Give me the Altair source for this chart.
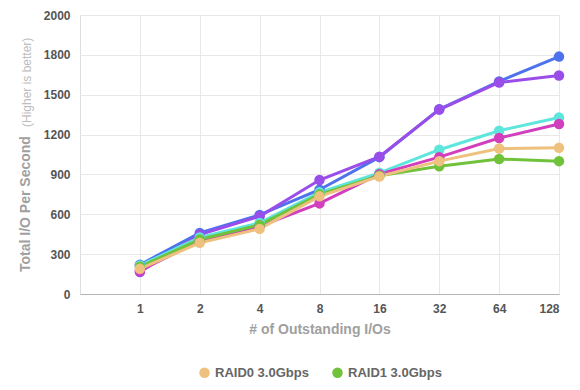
import altair as alt
import pandas as pd

ios = [1, 2, 4, 8, 16, 32, 64, 128]
# legend is filled column by column: left column first, then right column
series = ["RAID0 3.0Gbps", "RAID0 6.0Gbps", "RAID10 3.0Gbps",
          "RAID1 3.0Gbps", "RAID1 6.0Gbps", "RAID10 6.0Gbps"]
colors = ["#EEC17E", "#D23FBE", "#4E72EC", "#70C23B", "#5EE6DC", "#9A4DE9"]

raid0_3 = [190, 385, 490, 735, 885, 1000, 1095, 1100]
raid1_3 = [205, 410, 520, 750, 890, 962, 1016, 1000]
raid0_6 = [175, 400, 510, 682, 902, 1030, 1174, 1279]
raid1_6 = [215, 425, 535, 765, 912, 1086, 1229, 1329]
raid10_3 = [220, 460, 595, 785, 1030, 1390, 1600, 1787]
raid10_6 = [165, 447, 585, 858, 1034, 1388, 1592, 1645]

values = {
    "RAID0 3.0Gbps": raid0_3,
    "RAID1 3.0Gbps": raid1_3,
    "RAID0 6.0Gbps": raid0_6,
    "RAID1 6.0Gbps": raid1_6,
    "RAID10 3.0Gbps": raid10_3,
    "RAID10 6.0Gbps": raid10_6,
}
draw_order = ["RAID10 3.0Gbps", "RAID10 6.0Gbps", "RAID1 6.0Gbps",
              "RAID0 6.0Gbps", "RAID1 3.0Gbps", "RAID0 3.0Gbps"]

rows = []
for i, s in enumerate(draw_order):
    for x, v in zip(ios, values[s]):
        rows.append({"series": s, "ios": x, "iops": v, "ord": i})
df = pd.DataFrame(rows)

W, H = 479, 279
font = "Liberation Sans"

xenc = alt.X("ios:Q",
             scale=alt.Scale(type="log", base=2, domain=[0.5, 128]),
             axis=alt.Axis(values=ios, format="d", title="# of Outstanding I/Os",
                           labelFontWeight="bold", labelFontSize=12, labelColor="#555",
                           labelPadding=9, tickSize=0, domainColor="#b5b5b5",
                           gridColor="#e8e8e8", titleFontSize=14, titleFontWeight="bold",
                           titleColor="#a0a0a0", titlePadding=8, labelFont=font,
                           titleFont=font))
yenc = alt.Y("iops:Q",
             scale=alt.Scale(domain=[0, 1800, 2000], range=[H, H * 1 / 7, 0]),
             axis=alt.Axis(values=[0, 300, 600, 900, 1200, 1500, 1800, 2000],
                           format="d", title=None, labelFontWeight="bold",
                           labelFontSize=12, labelColor="#555", labelPadding=10,
                           tickSize=0, domain=False, gridColor="#e8e8e8",
                           labelFont=font))
cenc = alt.Color("series:N",
                 scale=alt.Scale(domain=series, range=colors),
                 legend=alt.Legend(title=None, orient="none", legendX=118, legendY=351,
                                   columns=2, symbolType="circle", symbolSize=110,
                                   symbolStrokeWidth=0, labelFontSize=13,
                                   labelFontWeight="bold", labelColor="#666",
                                   labelFont=font, columnPadding=14, rowPadding=8,
                                   symbolOpacity=1))

base = alt.Chart(df).encode(x=xenc, y=yenc, color=cenc, order=alt.Order("ord:Q"))
lines = base.mark_line(strokeWidth=3)
points = base.mark_point(filled=True, size=110, opacity=1)

shadow = alt.Chart(pd.DataFrame({"k": [0]})).mark_rect(
    clip=False,
    color=alt.Gradient(gradient="radial", x1=0.5, y1=0, r1=0, x2=0.5, y2=0, r2=0.5,
                       stops=[alt.GradientStop(color="#e6e6e6", offset=0),
                              alt.GradientStop(color="#f6f6f6", offset=0.55),
                              alt.GradientStop(color="#ffffff", offset=1)])
).encode(x=alt.value(0), x2=alt.value(W), y=alt.value(H + 1), y2=alt.value(H + 8))

t1 = alt.Chart(pd.DataFrame({"t": ["Total I/O Per Second"]})).mark_text(
    angle=270, align="left", baseline="middle", fontSize=14, fontWeight="bold",
    color="#a0a0a0", font=font).encode(text="t:N", x=alt.value(-54), y=alt.value(257))
t2 = alt.Chart(pd.DataFrame({"t": ["(Higher is better)"]})).mark_text(
    angle=270, align="left", baseline="middle", fontSize=12,
    color="#bdbdbd", font=font).encode(text="t:N", x=alt.value(-53), y=alt.value(112))

chart = alt.layer(shadow, lines, points, t1, t2).properties(
    width=W, height=H,
    autosize=alt.AutoSizeParams(type="none"),
    padding={"left": 72, "top": 7, "right": 10, "bottom": 90},
).configure_view(stroke="#c8c8c8").configure(background="white")

chart.save("out.html", embed_options={"renderer": "svg", "actions": False})
